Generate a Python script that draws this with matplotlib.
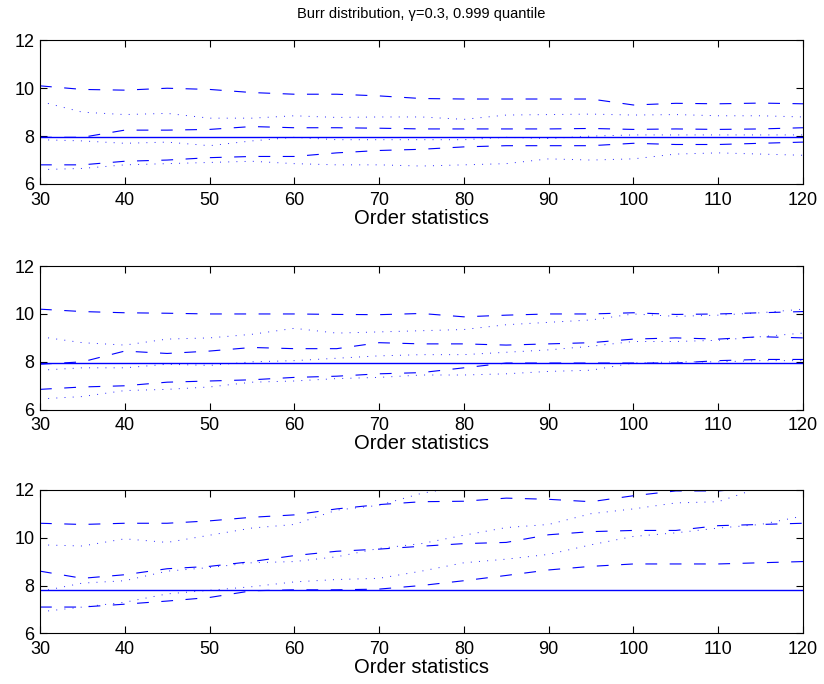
import numpy as np
import matplotlib
matplotlib.use("Agg")
import matplotlib.pyplot as plt

plt.rcParams['font.family'] = ['Liberation Sans', 'DejaVu Sans']
plt.rcParams['lines.scale_dashes'] = False

order_stats = [30, 35, 40, 45, 50, 55, 60, 65, 70, 75, 80, 85, 90, 95, 100, 105, 110, 115, 120]

# Panel 1
p1_true = 7.95
p1_upper_dash = [10.1, 9.95, 9.92, 10.0, 9.95, 9.82, 9.75, 9.75, 9.68, 9.57, 9.55, 9.55, 9.55, 9.55, 9.3, 9.37, 9.35, 9.38, 9.35]
p1_upper_dot = [9.45, 9.0, 8.9, 8.95, 8.75, 8.75, 8.85, 8.78, 8.8, 8.8, 8.7, 8.88, 8.9, 8.92, 8.88, 8.9, 8.85, 8.85, 8.8]
p1_mid_dash = [7.95, 7.95, 8.25, 8.25, 8.28, 8.4, 8.35, 8.35, 8.33, 8.3, 8.3, 8.3, 8.3, 8.32, 8.28, 8.3, 8.28, 8.3, 8.35]
p1_mid_dot = [7.85, 7.8, 7.7, 7.75, 7.6, 7.8, 7.95, 7.85, 7.85, 7.85, 7.85, 7.95, 7.9, 8.0, 8.05, 8.05, 8.05, 8.05, 8.05]
p1_low_dash = [6.8, 6.8, 6.95, 7.0, 7.1, 7.15, 7.15, 7.3, 7.4, 7.45, 7.55, 7.6, 7.6, 7.6, 7.7, 7.65, 7.65, 7.7, 7.75]
p1_low_dot = [6.6, 6.65, 6.8, 6.85, 6.9, 6.95, 6.85, 6.8, 6.8, 6.75, 6.8, 6.85, 7.05, 7.0, 7.05, 7.25, 7.3, 7.25, 7.2]

# Panel 2
p2_true = 7.95
p2_upper_dash = [10.2, 10.1, 10.05, 10.03, 10.0, 10.0, 10.0, 9.98, 9.97, 10.02, 9.88, 9.95, 10.0, 10.0, 10.05, 9.98, 10.0, 10.05, 10.1]
p2_upper_dot = [9.05, 8.8, 8.7, 8.95, 9.0, 9.15, 9.4, 9.2, 9.25, 9.3, 9.35, 9.55, 9.65, 9.75, 10.0, 9.9, 9.95, 10.05, 10.2]
p2_mid_dash = [7.9, 8.0, 8.45, 8.35, 8.45, 8.6, 8.55, 8.55, 8.8, 8.75, 8.75, 8.7, 8.75, 8.8, 8.95, 9.0, 8.95, 9.05, 9.0]
p2_mid_dot = [7.65, 7.75, 7.75, 7.9, 7.85, 8.0, 8.05, 8.15, 8.25, 8.3, 8.3, 8.4, 8.5, 8.65, 8.85, 8.85, 8.9, 9.05, 9.2]
p2_low_dash = [6.85, 6.95, 7.0, 7.15, 7.2, 7.25, 7.35, 7.4, 7.5, 7.55, 7.75, 7.95, 7.95, 7.95, 7.95, 7.95, 8.05, 8.1, 8.1]
p2_low_dot = [6.45, 6.55, 6.8, 6.85, 6.95, 7.15, 7.2, 7.3, 7.35, 7.45, 7.45, 7.5, 7.6, 7.65, 7.95, 8.0, 8.0, 8.05, 8.05]

# Panel 3
p3_true = 7.82
p3_upper_dash = [10.6, 10.55, 10.6, 10.6, 10.7, 10.85, 10.95, 11.2, 11.38, 11.5, 11.52, 11.65, 11.6, 11.5, 11.75, 11.95, 11.95, 12.1, 12.2]
p3_upper_dot = [9.7, 9.65, 9.95, 9.8, 10.1, 10.4, 10.55, 11.15, 11.35, 11.85, 12.15, 12.3, 12.45, 12.6, 12.7, 12.8, 12.9, 13.0, 13.1]
p3_mid_dash = [8.6, 8.3, 8.45, 8.7, 8.8, 9.0, 9.25, 9.43, 9.52, 9.64, 9.75, 9.8, 10.12, 10.25, 10.3, 10.3, 10.5, 10.55, 10.6]
p3_mid_dot = [7.75, 8.1, 8.2, 8.6, 8.75, 8.95, 9.0, 9.2, 9.55, 9.75, 10.1, 10.42, 10.55, 11.0, 11.2, 11.45, 11.5, 12.1, 12.3]
p3_low_dash = [7.1, 7.1, 7.22, 7.35, 7.5, 7.78, 7.82, 7.82, 7.85, 8.0, 8.2, 8.42, 8.65, 8.8, 8.9, 8.9, 8.9, 8.95, 9.0]
p3_low_dot = [6.9, 7.1, 7.3, 7.65, 7.8, 7.95, 8.15, 8.25, 8.3, 8.6, 8.95, 9.1, 9.3, 9.7, 10.05, 10.2, 10.4, 10.55, 10.9]

panels = [
    (p1_true, [p1_upper_dash, p1_mid_dash, p1_low_dash], [p1_upper_dot, p1_mid_dot, p1_low_dot]),
    (p2_true, [p2_upper_dash, p2_mid_dash, p2_low_dash], [p2_upper_dot, p2_mid_dot, p2_low_dot]),
    (p3_true, [p3_upper_dash, p3_mid_dash, p3_low_dash], [p3_upper_dot, p3_mid_dot, p3_low_dot]),
]

fig = plt.figure(figsize=(8.24, 6.84), dpi=100)
left, width, height = 0.0485, 0.926, 0.21
bottoms = [0.731, 0.401, 0.074]

blue = (0, 0, 1)
for i, (true_val, dashes_list, dots_list) in enumerate(panels):
    ax = fig.add_axes([left, bottoms[i], width, height])
    for ys in dots_list:
        ax.plot(order_stats, ys, color=blue, linewidth=0.7, dashes=(0.7, 5.2), alpha=0.85)
    for ys in dashes_list:
        ax.plot(order_stats, ys, color=blue, linewidth=0.8, dashes=(8.5, 9.0))
    ax.axhline(true_val, color=blue, linewidth=1.0)
    ax.set_xlim(30, 120)
    ax.set_ylim(6, 12)
    ax.set_xticks(np.arange(30, 121, 10))
    ax.set_yticks([6, 8, 10, 12])
    ax.tick_params(direction='in', top=True, right=True, labelsize=13, length=5, width=0.8)
    ax.tick_params(axis='x', pad=5.5)
    ax.tick_params(axis='y', pad=4)
    for s in ax.spines.values():
        s.set_linewidth(0.8)
    ax.set_xlabel('Order statistics', fontsize=14.5, labelpad=0)
    if i == 0:
        ax.set_title('Burr distribution, \u03b3=0.3, 0.999 quantile', fontsize=10.5, pad=16)

fig.savefig('out.png', dpi=100)
